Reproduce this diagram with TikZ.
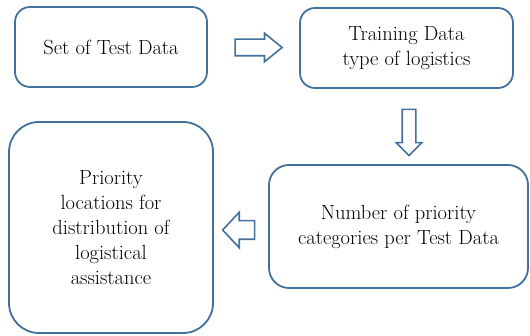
\documentclass[tikz,border=0pt]{standalone}
\usetikzlibrary{shapes,shapes.arrows,positioning,calc}
\definecolor{boxblue}{RGB}{65,113,156}

\tikzset{
  stepbox/.style={draw=boxblue,line width=1.8pt,rounded corners=15pt,align=center,
    font=\rmfamily\fontsize{20.5}{25}\selectfont,inner sep=0pt},
  blockarrow/.style={single arrow,draw=boxblue,fill=white,line width=1.6pt,inner sep=0pt}
}

\begin{document}
\begin{tikzpicture}[x=1pt,y=1pt]
  \useasboundingbox (0,0) rectangle (530,336);
% Top row
  \node[stepbox,minimum width=192pt,minimum height=80pt] (testset) at (111,289) {Set of Test Data};
  \node[stepbox,minimum width=213pt,minimum height=80pt] (training) at (406.5,288) {Training Data\\type of logistics};
% Bottom row
  \node[stepbox,minimum width=259pt,minimum height=123pt,rounded corners=20pt] (categories) at (398.5,109.5)
    {Number of priority\\categories per Test Data};
  \node[stepbox,minimum width=204pt,minimum height=211pt,rounded corners=30pt] (locations) at (111,108.5)
    {Priority\\locations for\\distribution of\\logistical\\assistance};
% Block arrows
  \node[blockarrow,minimum height=47pt,minimum width=27pt,single arrow head extend=6pt,
    single arrow tip angle=78,inner sep=7.5pt] (toright) at ($(testset.east)!0.5!(training.west)$) {};
  \node[blockarrow,rotate=-90,minimum height=46pt,minimum width=24pt,single arrow head extend=6pt,
    single arrow tip angle=90,inner sep=6pt] (todown) at (409,207) {};
  \node[blockarrow,rotate=180,minimum height=32pt,minimum width=34pt,single arrow head extend=8.5pt,
    single arrow tip angle=94,inner sep=8.5pt] (toleft) at (243,106) {};
\end{tikzpicture}
\end{document}
